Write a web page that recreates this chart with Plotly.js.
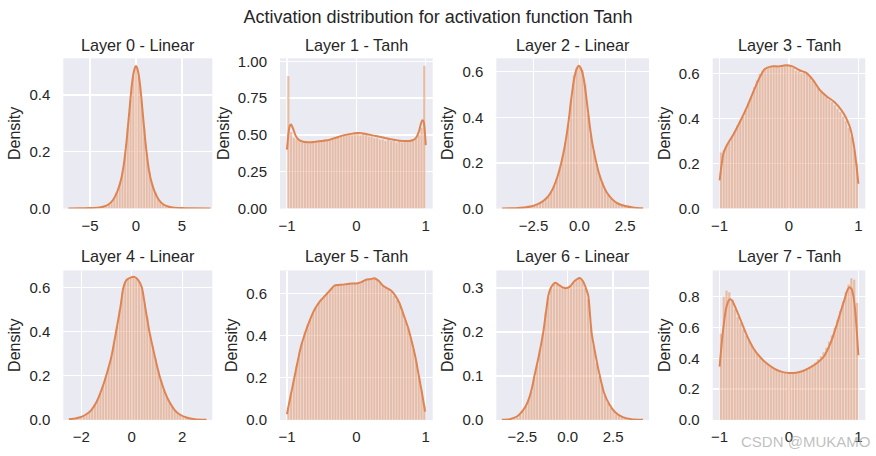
<!DOCTYPE html>
<html>
<head>
<meta charset="utf-8">
<script src="https://cdn.plot.ly/plotly-3.0.1.min.js"></script>
<style>html,body{margin:0;padding:0;background:#fff}#chart{width:876px;height:456px}</style>
</head>
<body>
<div id="chart"></div>
<script>
// ---------------- data ----------------
const suptitle = "Activation distribution for activation function Tanh";
const layerTitles = ["Layer 0 - Linear","Layer 1 - Tanh","Layer 2 - Linear","Layer 3 - Tanh",
                     "Layer 4 - Linear","Layer 5 - Tanh","Layer 6 - Linear","Layer 7 - Tanh"];

// histogram bin ranges [lo, hi] and densities (50 bins each)
const histRange0 = [-6.9, 7.8];
const hist0 = [0.0001,0.0002,0.0003,0.0004,0.0006,0.0008,0.0012,0.0018,0.0025,0.0035,
  0.005,0.0075,0.011,0.016,0.025,0.038,0.058,0.088,0.13,0.195,
  0.285,0.385,0.465,0.50,0.465,0.385,0.285,0.195,0.13,0.088,
  0.058,0.038,0.025,0.016,0.011,0.0075,0.005,0.0035,0.0025,0.0018,
  0.0012,0.0008,0.0006,0.0004,0.0003,0.0002,0.0002,0.0001,0.0001,0.0001];
const kdeX0 = [-7.35,-6,-5,-4,-3.5,-3,-2.5,-2,-1.6,-1.3,-1,-0.7,-0.45,-0.25,-0.1,0,0.1,0.25,0.45,0.7,1,1.3,1.6,2,2.5,3,3.5,4,5,6,8.1];
const kdeY0 = [0.0002,0.0006,0.0015,0.004,0.007,0.014,0.03,0.062,0.105,0.16,0.245,0.35,0.435,0.48,0.498,0.503,0.498,0.48,0.435,0.35,0.245,0.16,0.105,0.062,0.03,0.014,0.007,0.004,0.0015,0.0006,0.0002];

const histRange1 = [-1, 1];
const hist1 = [0.90,0.52,0.48,0.47,0.46,0.45,0.46,0.45,0.45,0.46,
  0.45,0.46,0.46,0.47,0.46,0.47,0.48,0.48,0.49,0.49,
  0.50,0.50,0.51,0.50,0.51,0.51,0.50,0.51,0.50,0.49,
  0.49,0.48,0.48,0.47,0.47,0.46,0.47,0.46,0.46,0.45,
  0.46,0.45,0.46,0.46,0.46,0.47,0.48,0.50,0.55,0.97];
const kdeX1 = [-1,-0.98,-0.96,-0.94,-0.91,-0.88,-0.84,-0.78,-0.7,-0.6,-0.5,-0.4,-0.3,-0.2,-0.1,0,0.05,0.1,0.2,0.3,0.4,0.5,0.6,0.7,0.8,0.86,0.9,0.93,0.95,0.97,0.99,1.0];
const kdeY1 = [0.40,0.50,0.56,0.57,0.54,0.50,0.47,0.455,0.45,0.452,0.458,0.465,0.48,0.495,0.505,0.512,0.513,0.51,0.50,0.49,0.48,0.47,0.462,0.458,0.462,0.48,0.52,0.575,0.60,0.59,0.50,0.43];

const histRange2 = [-4.22, 3.48];
const hist2 = [0.0003,0.0005,0.0007,0.001,0.0014,0.002,0.0028,0.0038,0.005,0.007,
  0.0095,0.013,0.018,0.025,0.032,0.043,0.056,0.075,0.10,0.133,
  0.175,0.228,0.294,0.37,0.48,0.585,0.615,0.624,0.605,0.545,
  0.415,0.325,0.254,0.195,0.149,0.115,0.085,0.064,0.048,0.037,
  0.028,0.021,0.015,0.011,0.008,0.006,0.0045,0.0033,0.0024,0.0017];
const kdeX2 = [-4.22,-3.5,-3.0,-2.6,-2.3,-2.0,-1.8,-1.6,-1.4,-1.2,-1.0,-0.8,-0.6,-0.45,-0.3,-0.15,-0.03,0.1,0.25,0.4,0.55,0.7,0.9,1.1,1.3,1.5,1.8,2.1,2.5,3.0,3.48];
const kdeY2 = [0.0003,0.0014,0.0042,0.0095,0.018,0.031,0.045,0.065,0.095,0.138,0.195,0.272,0.375,0.475,0.562,0.612,0.626,0.612,0.565,0.475,0.375,0.29,0.21,0.147,0.103,0.07,0.04,0.022,0.011,0.0038,0.001];

const histRange3 = [-1, 1];
const hist3 = [0.25,0.26,0.28,0.30,0.32,0.345,0.37,0.39,0.41,0.44,
  0.47,0.50,0.54,0.57,0.60,0.615,0.625,0.63,0.635,0.632,
  0.63,0.628,0.635,0.638,0.64,0.635,0.625,0.615,0.61,0.605,
  0.605,0.60,0.59,0.57,0.555,0.54,0.52,0.51,0.50,0.485,
  0.475,0.46,0.445,0.43,0.41,0.39,0.36,0.32,0.26,0.20];
const kdeX3 = [-1,-0.97,-0.94,-0.88,-0.8,-0.7,-0.6,-0.5,-0.42,-0.35,-0.25,-0.15,-0.05,0.05,0.15,0.25,0.35,0.45,0.55,0.65,0.75,0.82,0.88,0.93,0.97,1.0];
const kdeY3 = [0.125,0.2,0.25,0.29,0.33,0.39,0.455,0.53,0.585,0.62,0.632,0.632,0.637,0.632,0.615,0.603,0.57,0.525,0.497,0.475,0.44,0.405,0.36,0.29,0.2,0.11];

const histRange4 = [-2.49, 2.96];
const hist4 = [0.003,0.005,0.007,0.01,0.014,0.019,0.027,0.037,0.05,0.07,
  0.092,0.122,0.16,0.198,0.24,0.29,0.355,0.425,0.50,0.58,
  0.625,0.64,0.645,0.648,0.642,0.628,0.60,0.53,0.465,0.39,
  0.335,0.28,0.225,0.18,0.14,0.108,0.082,0.062,0.045,0.033,
  0.024,0.017,0.012,0.009,0.006,0.0045,0.003,0.002,0.0015,0.001];
const kdeX4 = [-2.49,-2.2,-2.0,-1.8,-1.6,-1.4,-1.2,-1.0,-0.8,-0.62,-0.45,-0.33,-0.2,-0.05,0.1,0.25,0.4,0.55,0.7,0.9,1.1,1.3,1.5,1.7,1.9,2.2,2.5,2.96];
const kdeY4 = [0.003,0.008,0.014,0.026,0.045,0.08,0.135,0.205,0.29,0.40,0.51,0.60,0.635,0.645,0.648,0.635,0.60,0.50,0.40,0.295,0.20,0.13,0.08,0.045,0.025,0.01,0.004,0.001];

const histRange5 = [-1, 1];
const hist5 = [0.06,0.13,0.19,0.26,0.32,0.37,0.42,0.455,0.48,0.51,
  0.535,0.555,0.575,0.59,0.605,0.62,0.63,0.638,0.64,0.642,
  0.645,0.646,0.648,0.645,0.648,0.65,0.655,0.662,0.665,0.668,
  0.672,0.675,0.665,0.65,0.638,0.63,0.62,0.61,0.59,0.57,
  0.55,0.515,0.475,0.44,0.395,0.34,0.28,0.21,0.14,0.07];
const kdeX5 = [-1,-0.95,-0.9,-0.85,-0.8,-0.74,-0.68,-0.6,-0.52,-0.45,-0.38,-0.31,-0.2,-0.1,0.02,0.08,0.14,0.2,0.26,0.32,0.38,0.44,0.5,0.56,0.62,0.69,0.75,0.8,0.85,0.9,0.95,0.99];
const kdeY5 = [0.028,0.11,0.19,0.27,0.346,0.41,0.465,0.525,0.565,0.59,0.615,0.638,0.642,0.646,0.649,0.655,0.665,0.668,0.672,0.66,0.638,0.625,0.614,0.59,0.555,0.49,0.433,0.37,0.30,0.21,0.12,0.04];

const histRange6 = [-3.63, 4.15];
const hist6 = [0.0006,0.0009,0.0013,0.002,0.003,0.006,0.012,0.022,0.032,0.048,
  0.066,0.098,0.125,0.16,0.196,0.245,0.28,0.30,0.31,0.312,
  0.306,0.302,0.30,0.30,0.305,0.312,0.318,0.322,0.318,0.30,
  0.275,0.215,0.17,0.13,0.10,0.078,0.056,0.04,0.029,0.02,
  0.014,0.009,0.006,0.004,0.003,0.002,0.0015,0.001,0.0006,0.0004];
const kdeX6 = [-3.63,-3.2,-2.8,-2.45,-2.2,-2.0,-1.84,-1.6,-1.35,-1.2,-1.07,-0.9,-0.68,-0.45,-0.25,-0.06,0.15,0.35,0.5,0.67,0.85,1.0,1.13,1.31,1.5,1.77,2.0,2.3,2.6,3.0,3.5,4.15];
const kdeY6 = [0.0005,0.002,0.008,0.023,0.042,0.068,0.10,0.145,0.20,0.245,0.283,0.303,0.312,0.306,0.301,0.30,0.305,0.315,0.32,0.323,0.315,0.30,0.283,0.20,0.155,0.10,0.062,0.035,0.018,0.007,0.002,0.0003];

const histRange7 = [-1, 1];
const hist7 = [0.56,0.80,0.84,0.83,0.78,0.72,0.67,0.63,0.59,0.55,
  0.52,0.49,0.455,0.435,0.41,0.39,0.37,0.36,0.345,0.335,
  0.325,0.315,0.31,0.305,0.30,0.305,0.305,0.31,0.31,0.315,
  0.325,0.335,0.345,0.36,0.375,0.395,0.415,0.44,0.47,0.51,
  0.55,0.60,0.65,0.71,0.77,0.83,0.88,0.92,0.91,0.76];
const kdeX7 = [-1,-0.97,-0.95,-0.92,-0.9,-0.87,-0.85,-0.82,-0.8,-0.75,-0.7,-0.6,-0.5,-0.4,-0.3,-0.2,-0.1,0,0.1,0.2,0.3,0.4,0.5,0.6,0.68,0.75,0.8,0.84,0.87,0.9,0.93,0.96,0.98,1.0];
const kdeY7 = [0.346,0.50,0.584,0.69,0.735,0.775,0.783,0.775,0.757,0.705,0.649,0.54,0.455,0.40,0.36,0.33,0.312,0.305,0.307,0.318,0.34,0.368,0.41,0.50,0.605,0.71,0.78,0.84,0.86,0.85,0.80,0.68,0.56,0.42];

// tick values / labels
const xTickVals = [[-5,0,5],[-1,0,1],[-2.5,0,2.5],[-1,0,1],[-2,0,2],[-1,0,1],[-2.5,0,2.5],[-1,0,1]];
const xTickText = [["−5","0","5"],["−1","0","1"],["−2.5","0.0","2.5"],["−1","0","1"],
                   ["−2","0","2"],["−1","0","1"],["−2.5","0.0","2.5"],["−1","0","1"]];
const yTickVals = [[0,0.2,0.4],[0,0.25,0.5,0.75,1.0],[0,0.2,0.4,0.6],[0,0.2,0.4,0.6],
                   [0,0.2,0.4,0.6],[0,0.2,0.4,0.6],[0,0.1,0.2,0.3],[0,0.2,0.4,0.6,0.8]];
const yTickText = [["0.0","0.2","0.4"],["0.00","0.25","0.50","0.75","1.00"],["0.0","0.2","0.4","0.6"],["0.0","0.2","0.4","0.6"],
                   ["0.0","0.2","0.4","0.6"],["0.0","0.2","0.4","0.6"],["0.0","0.1","0.2","0.3"],["0.0","0.2","0.4","0.6","0.8"]];
const watermark = "CSDN @MUKAMO";

// ---------------- layout / styling ----------------
const hists = [hist0,hist1,hist2,hist3,hist4,hist5,hist6,hist7];
const histRanges = [histRange0,histRange1,histRange2,histRange3,histRange4,histRange5,histRange6,histRange7];
const kdeXs = [kdeX0,kdeX1,kdeX2,kdeX3,kdeX4,kdeX5,kdeX6,kdeX7];
const kdeYs = [kdeY0,kdeY1,kdeY2,kdeY3,kdeY4,kdeY5,kdeY6,kdeY7];

const xRanges = [[-7.9,8.3],[-1.1,1.1],[-4.53,3.80],[-1.1,1.1],[-2.71,3.19],[-1.1,1.1],[-3.94,4.48],[-1.1,1.1]];
const yRanges = [[0,0.53],[0,1.02],[0,0.659],[0,0.668],[0,0.677],[0,0.709],[0,0.340],[0,0.969]];

const W = 876, H = 456;
const colPx = [[63.3,212.3],[280,432.7],[496.3,649],[712.7,865.3]];
const rowPx = [[58.3,208.5],[270.5,420]];

const LINE = '#DD8452';
const TXT = '#262626';
const FONT = 'Liberation Sans, Arial, sans-serif';

const traces = [];
const layout = {
  width: W, height: H,
  margin: {l:0, r:0, t:0, b:0},
  paper_bgcolor: '#ffffff',
  plot_bgcolor: '#EAEAF2',
  showlegend: false,
  barmode: 'overlay',
  font: {family: FONT, color: TXT, size: 14},
  title: {text: suptitle, font: {family: FONT, size: 18, color: TXT}, x: 0.5, xanchor: 'center', y: 1 - 17/H, yanchor: 'middle', xref: 'paper', yref: 'container'},
  annotations: []
};

for (let i = 0; i < 8; i++) {
  const r = Math.floor(i / 4), c = i % 4;
  const sfx = i === 0 ? '' : String(i + 1);
  const h = hists[i], rg = histRanges[i];
  const w = (rg[1] - rg[0]) / h.length;
  const centers = h.map((_, k) => rg[0] + w * (k + 0.5));
  traces.push({
    type: 'bar', x: centers, y: h, width: w,
    xaxis: 'x' + sfx, yaxis: 'y' + sfx,
    marker: {color: 'rgba(221,132,82,0.45)', line: {color: 'rgba(255,255,255,0.55)', width: 0.5}},
    hoverinfo: 'skip'
  });
  traces.push({
    type: 'scatter', mode: 'lines', x: kdeXs[i], y: kdeYs[i],
    xaxis: 'x' + sfx, yaxis: 'y' + sfx,
    line: {color: LINE, width: 2, shape: 'spline', smoothing: 0.6},
    hoverinfo: 'skip'
  });
  const xd = [colPx[c][0] / W, colPx[c][1] / W];
  const yd = [1 - rowPx[r][1] / H, 1 - rowPx[r][0] / H];
  layout['xaxis' + sfx] = {
    domain: xd, range: xRanges[i], anchor: 'y' + sfx,
    showgrid: true, gridcolor: '#ffffff', gridwidth: 1.3, zeroline: false, showline: false,
    ticks: '', tickvals: xTickVals[i], ticktext: xTickText[i],
    tickfont: {family: FONT, size: 15, color: TXT}, ticklabelstandoff: 6
  };
  layout['yaxis' + sfx] = {
    domain: yd, range: yRanges[i], anchor: 'x' + sfx,
    showgrid: true, gridcolor: '#ffffff', gridwidth: 1.3, zeroline: false, showline: false,
    ticks: '', tickvals: yTickVals[i], ticktext: yTickText[i],
    tickfont: {family: FONT, size: 15, color: TXT}, ticklabelstandoff: 12,
    title: {text: 'Density', font: {family: FONT, size: 16, color: TXT}, standoff: 4}
  };
  layout.annotations.push({
    text: layerTitles[i], xref: 'paper', yref: 'paper',
    x: (xd[0] + xd[1]) / 2, y: 1 - (r === 0 ? 45.5 : 256) / H,
    xanchor: 'center', yanchor: 'middle', showarrow: false,
    font: {family: FONT, size: 16.2, color: TXT}
  });
}
layout.annotations.push({
  text: watermark, xref: 'paper', yref: 'paper', x: 872 / W, y: 1 - 441 / H,
  xanchor: 'right', yanchor: 'middle', showarrow: false,
  font: {family: FONT, size: 15, color: 'rgba(170,170,170,0.75)'}
});

Plotly.newPlot('chart', traces, layout, {staticPlot: true, displayModeBar: false});
</script>
</body>
</html>
